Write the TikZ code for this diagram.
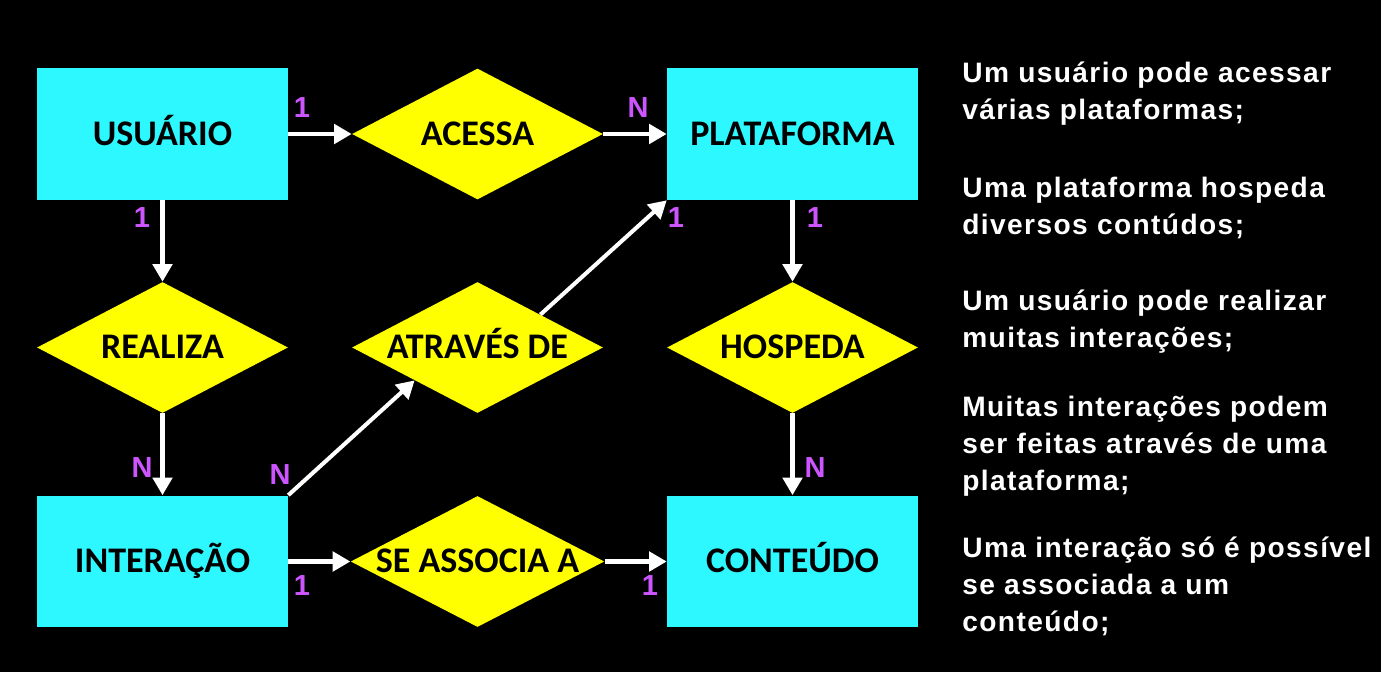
\documentclass[tikz,border=0pt]{standalone}
\usepackage{fontspec}
\setmainfont{Liberation Sans}
\newfontfamily\boxfont{Carlito}
\newfontfamily\notefont[LetterSpace=5]{Liberation Sans}
\usetikzlibrary{shapes.geometric,arrows.meta}
\definecolor{boxcyan}{HTML}{2EF8FF}
\definecolor{relyellow}{HTML}{FFFF00}
\definecolor{cardpurple}{HTML}{CC55FF}
\begin{document}
\begin{tikzpicture}[x=0.02cm,y=-0.02cm,
  entity/.style={fill=boxcyan,minimum width=5.02cm,minimum height=2.64cm,
    inner sep=0pt,text height=13pt,text depth=0pt,
    font=\boxfont\bfseries\fontsize{20.5}{24}\selectfont},
  relation/.style={diamond,fill=relyellow,minimum width=5.02cm,minimum height=2.62cm,
    inner sep=0pt,shape aspect=2.2,text height=13pt,text depth=0pt,
    font=\boxfont\bfseries\fontsize{20.5}{24}\selectfont},
  card/.style={text=cardpurple,font=\bfseries\fontsize{16.5}{18}\selectfont,inner sep=0pt},
  note/.style={text=white,anchor=north west,align=left,inner sep=0pt,
    font=\notefont\bfseries\fontsize{16}{21}\selectfont},
  link/.style={draw=white,line width=2.3pt,-{Triangle[length=10pt,width=11pt]}}]
\fill[black] (0,0) rectangle (1381,672);
% entities
\node[entity] (user) at (162.5,134) {USUÁRIO};
\node[entity] (plat) at (792.5,134) {PLATAFORMA};
\node[entity] (inter) at (162.5,561.5) {INTERAÇÃO};
\node[entity] (cont) at (792.5,561.5) {CONTEÚDO};
% relations
\node[relation] (acc) at (477.5,134) {ACESSA};
\node[relation] (real) at (162.5,347.5) {REALIZA};
\node[relation] (thru) at (477.5,347.5) {ATRAVÉS DE};
\node[relation] (host) at (792.5,347.5) {HOSPEDA};
\node[relation] (assoc) at (477.5,561.5) {SE ASSOCIA A};
% connectors
\draw[link] (user.east) -- (acc.west);
\draw[link] (acc.east) -- (plat.west);
\draw[link] (user.south) -- (real.north);
\draw[link] (real.south) -- (inter.north);
\draw[link] (inter.north east) -- (thru.south west);
\draw[link] (thru.north east) -- (plat.south west);
\draw[link] (plat.south) -- (host.north);
\draw[link] (host.south) -- (cont.north);
\draw[link] (inter.east) -- (assoc.west);
\draw[link] (assoc.east) -- (cont.west);
% cardinalities
\node[card] (c1) at (302,108) {1};
\node[card] (c2) at (638,108) {N};
\node[card] (c3) at (142,218) {1};
\node[card] (c4) at (142,468) {N};
\node[card] (c5) at (280,475) {N};
\node[card] (c6) at (676,218) {1};
\node[card] (c7) at (815,218) {1};
\node[card] (c8) at (815,468) {N};
\node[card] (c9) at (302,586) {1};
\node[card] (c10) at (650,586) {1};
% notes
\node[note] (n1) at (962,62) {Um usuário pode acessar\\várias plataformas;};
\node[note] (n2) at (962,177) {Uma plataforma hospeda\\diversos contúdos;};
\node[note] (n3) at (962,290) {Um usuário pode realizar\\muitas interações;};
\node[note] (n4) at (962,396) {Muitas interações podem\\ser feitas através de uma\\plataforma;};
\node[note] (n5) at (962,537) {Uma interação só é possível\\se associada a um\\conteúdo;};
\end{tikzpicture}
\end{document}
